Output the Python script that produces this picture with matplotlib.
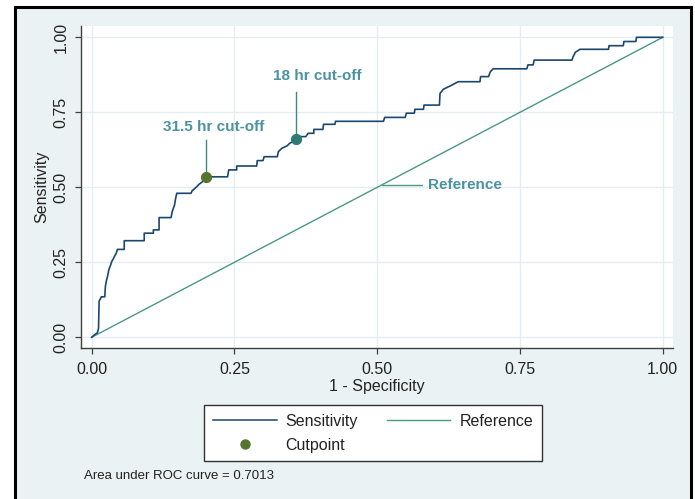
#!/usr/bin/env python3

import matplotlib.pyplot as plt
from matplotlib.lines import Line2D
from matplotlib.patches import Rectangle

plt.rcParams["font.family"] = ["Liberation Sans", "DejaVu Sans"]

# ROC curve corner points (1 - specificity, sensitivity)
fpr = [
    0.000, 0.006, 0.010, 0.012, 0.013, 0.017, 0.023, 0.024, 0.026, 0.028,
    0.030, 0.033, 0.035, 0.038, 0.040, 0.043, 0.045, 0.057, 0.057, 0.092,
    0.092, 0.108, 0.108, 0.118, 0.118, 0.139, 0.141, 0.143, 0.145, 0.147,
    0.149, 0.174, 0.176, 0.180, 0.184, 0.188, 0.193, 0.197, 0.200, 0.238,
    0.240, 0.254, 0.254, 0.289, 0.290, 0.300, 0.302, 0.325, 0.327, 0.333,
    0.342, 0.347, 0.352, 0.357, 0.365, 0.375, 0.379, 0.389, 0.389, 0.405,
    0.406, 0.426, 0.427, 0.511, 0.513, 0.549, 0.551, 0.565, 0.566, 0.581,
    0.582, 0.609, 0.610, 0.616, 0.628, 0.642, 0.680, 0.681, 0.695, 0.698,
    0.703, 0.762, 0.764, 0.773, 0.775, 0.841, 0.843, 0.847, 0.855, 0.905,
    0.906, 0.931, 0.932, 0.953, 0.954, 1.000,
]
tpr = [
    0.000, 0.010, 0.015, 0.030, 0.120, 0.135, 0.135, 0.170, 0.190, 0.205,
    0.225, 0.240, 0.252, 0.262, 0.270, 0.280, 0.293, 0.293, 0.322, 0.322,
    0.347, 0.347, 0.358, 0.358, 0.399, 0.399, 0.419, 0.430, 0.440, 0.463,
    0.480, 0.480, 0.489, 0.495, 0.502, 0.510, 0.517, 0.525, 0.535, 0.535,
    0.558, 0.558, 0.571, 0.571, 0.589, 0.589, 0.602, 0.602, 0.619, 0.630,
    0.638, 0.647, 0.652, 0.660, 0.669, 0.669, 0.680, 0.680, 0.693, 0.693,
    0.710, 0.710, 0.720, 0.720, 0.733, 0.733, 0.747, 0.747, 0.760, 0.760,
    0.774, 0.774, 0.813, 0.827, 0.838, 0.852, 0.852, 0.869, 0.869, 0.885,
    0.895, 0.895, 0.908, 0.908, 0.924, 0.924, 0.935, 0.950, 0.960, 0.960,
    0.972, 0.972, 0.986, 0.986, 1.000, 1.000,
]

# Cutpoints marked on the curve
cut_labels = ["31.5 hr cut-off", "18 hr cut-off"]
cut_fpr = [0.200, 0.357]
cut_tpr = [0.535, 0.660]
cut_colors = ["#55752f", "#2f7a72"]
cut_label_pos = [(0.214, 0.700), (0.395, 0.871)]
cut_line_top = [0.658, 0.819]

ticks = [0.0, 0.25, 0.5, 0.75, 1.0]
tick_labels = ["0.00", "0.25", "0.50", "0.75", "1.00"]
auc = 0.7013

navy = "#1a476f"
teal = "#4a9886"
label_teal = "#4b93a0"
bg = "#eaf2f3"

fig = plt.figure(figsize=(6.95, 4.99), dpi=100)
fig.patch.set_facecolor("white")

# outer frame of the graph region
frame = Rectangle(
    (15 / 695, -0.02), 676 / 695, 0.986 + 0.02,
    transform=fig.transFigure, facecolor=bg, edgecolor="black",
    linewidth=2.2, zorder=-10,
)
fig.add_artist(frame)

ax = fig.add_axes([81 / 695, 1 - 348.3 / 499, 592 / 695, 322.3 / 499])
ax.set_facecolor("white")

ax.plot([0, 1], [0, 1], color=teal, linewidth=1.0, zorder=2)
ax.plot(fpr, tpr, color=navy, linewidth=1.2, zorder=3)

for label, x, y, c, (lx, ly), top in zip(
    cut_labels, cut_fpr, cut_tpr, cut_colors, cut_label_pos, cut_line_top
):
    ax.plot([x, x], [y, top], color="#3f8a80", linewidth=1.0, zorder=3)
    ax.scatter([x], [y], s=50, color=c, zorder=4)
    ax.text(lx, ly, label, color=label_teal, fontsize=11,
            fontweight="bold", ha="center", va="center")

# label for the reference diagonal
ax.plot([0.508, 0.578], [0.508, 0.508], color=teal, linewidth=1.0)
ax.text(0.589, 0.508, "Reference", color=label_teal, fontsize=11,
        fontweight="bold", ha="left", va="center")

ax.set_xlim(-0.0187, 1.018)
ax.set_ylim(-0.0367, 1.0377)
ax.set_xticks(ticks)
ax.set_xticklabels(tick_labels)
ax.set_yticks(ticks)
ax.set_yticklabels(tick_labels, rotation=90, va="center")
ax.grid(True, color="#e4eef0", linewidth=1.0)
ax.set_axisbelow(True)

for side in ["top", "right"]:
    ax.spines[side].set_visible(False)
for side in ["left", "bottom"]:
    ax.spines[side].set_color("#404040")
    ax.spines[side].set_linewidth(1.0)

ax.tick_params(length=4, width=0.9, color="#404040", labelsize=11.5,
               labelcolor="#222222")
ax.tick_params(axis="x", pad=6)
ax.tick_params(axis="y", pad=5)
ax.set_xlabel("1 - Specificity", fontsize=11.5, color="#222222", labelpad=1.5)
ax.set_ylabel("Sensitivity", fontsize=11.5, color="#222222", labelpad=3)

handles = [
    Line2D([], [], color=navy, linewidth=1.1),
    Line2D([], [], linestyle="none", marker="o", markersize=6.5,
           color="#55752f"),
    Line2D([], [], color=teal, linewidth=1.0),
]
leg = fig.legend(
    handles, ["Sensitivity", "Cutpoint", "Reference"],
    ncol=2, loc="upper left", bbox_to_anchor=(204 / 695, 1 - 405 / 499),
    fontsize=11.5, frameon=True, fancybox=False, framealpha=1.0,
    handlelength=4.0, handletextpad=0.55, columnspacing=1.8,
    labelspacing=0.55, borderpad=0.55, borderaxespad=0,
)
leg.get_frame().set_edgecolor("#333333")
leg.get_frame().set_linewidth(1.0)
leg.get_frame().set_facecolor("white")
for t in leg.get_texts():
    t.set_color("#222222")

fig.text(84 / 695, 1 - 476 / 499, f"Area under ROC curve = {auc:.4f}",
         fontsize=9.5, color="#222222", ha="left", va="center")

fig.savefig("out.png", dpi=100)
